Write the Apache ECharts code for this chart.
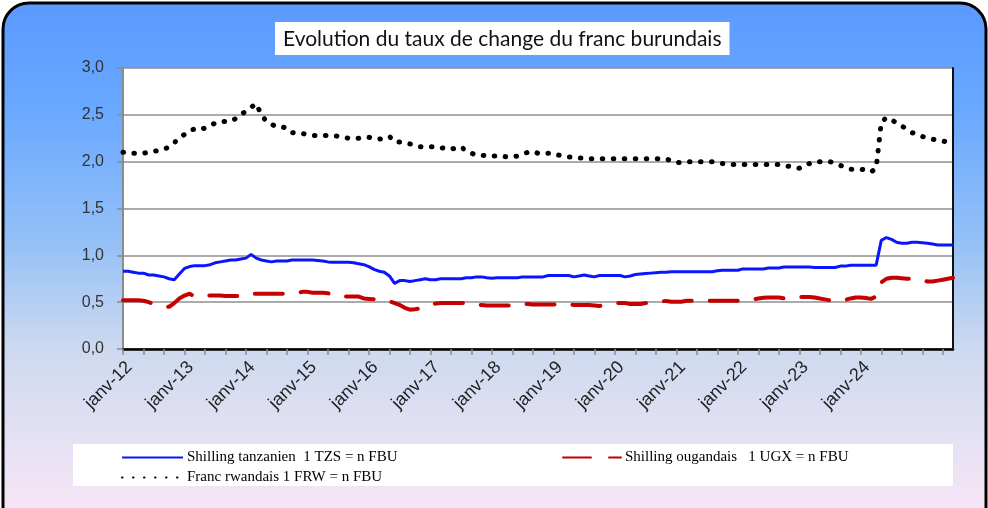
<!DOCTYPE html>
<html>
<head>
<meta charset="utf-8">
<script src="https://cdn.jsdelivr.net/npm/echarts@6/dist/echarts.min.js"></script>
<style>html,body{margin:0;padding:0;background:#fff}#c{width:988px;height:508px}</style>
</head>
<body>
<div id="c"></div>
<script>
// ---- data (monthly, janv-12 .. juil-25) ----
const monthNames = ['janv','févr','mars','avr','mai','juin','juil','août','sept','oct','nov','déc'];
const startYear = 12;
const nMonths = 163;
const xTickLabels = ['janv-12','janv-13','janv-14','janv-15','janv-16','janv-17','janv-18','janv-19','janv-20','janv-21','janv-22','janv-23','janv-24'];
const yTickLabels = ['0,0','0,5','1,0','1,5','2,0','2,5','3,0'];
const seriesNames = ['Shilling tanzanien  1 TZS = n FBU','Shilling ougandais   1 UGX = n FBU','Franc rwandais 1 FRW = n FBU'];

const tzs = [
0.83,0.83,0.82,0.81,0.81,0.79,0.79,0.78,0.77,0.75,0.74,0.80,
0.86,0.88,0.89,0.89,0.89,0.90,0.92,0.93,0.94,0.95,0.95,0.96,
0.97,1.01,0.97,0.95,0.94,0.93,0.94,0.94,0.94,0.95,0.95,0.95,
0.95,0.95,0.945,0.94,0.93,0.925,0.925,0.925,0.925,0.92,0.91,0.90,
0.88,0.85,0.83,0.82,0.78,0.70,0.73,0.73,0.72,0.73,0.74,0.75,
0.74,0.74,0.75,0.75,0.75,0.75,0.75,0.76,0.76,0.77,0.77,0.76,
0.755,0.76,0.76,0.76,0.76,0.76,0.77,0.77,0.77,0.77,0.77,0.785,
0.785,0.785,0.785,0.785,0.77,0.78,0.79,0.78,0.77,0.785,0.785,0.785,
0.785,0.785,0.77,0.78,0.795,0.80,0.805,0.81,0.815,0.82,0.82,0.825,
0.825,0.825,0.825,0.825,0.825,0.825,0.825,0.825,0.835,0.84,0.84,0.84,
0.84,0.855,0.855,0.855,0.855,0.855,0.865,0.865,0.865,0.875,0.875,0.875,
0.875,0.875,0.875,0.87,0.87,0.87,0.87,0.87,0.885,0.885,0.895,0.895,
0.895,0.895,0.895,0.895,1.16,1.19,1.17,1.14,1.13,1.13,1.14,1.14,
1.135,1.13,1.12,1.11,1.11,1.11,1.11
];
const ugx = [
0.52,0.52,0.52,0.52,0.515,0.50,0.48,0.47,0.46,0.45,0.49,0.54,
0.57,0.59,0.56,0.56,0.57,0.57,0.57,0.57,0.565,0.565,0.565,0.565,
0.565,0.59,0.59,0.59,0.59,0.59,0.59,0.59,0.59,0.595,0.60,0.61,
0.61,0.60,0.60,0.60,0.595,0.58,0.56,0.56,0.56,0.56,0.56,0.54,
0.535,0.53,0.52,0.515,0.51,0.49,0.47,0.44,0.42,0.425,0.435,0.455,
0.475,0.485,0.49,0.49,0.49,0.49,0.49,0.49,0.49,0.475,0.47,0.465,
0.465,0.465,0.465,0.465,0.465,0.48,0.48,0.48,0.475,0.475,0.475,0.475,
0.475,0.475,0.475,0.475,0.47,0.47,0.47,0.47,0.465,0.46,0.47,0.48,
0.49,0.49,0.49,0.48,0.48,0.48,0.49,0.50,0.505,0.51,0.512,0.505,
0.505,0.505,0.515,0.515,0.515,0.515,0.515,0.515,0.515,0.515,0.515,0.515,
0.515,0.52,0.52,0.53,0.54,0.548,0.55,0.55,0.55,0.54,0.55,0.555,
0.555,0.555,0.555,0.55,0.54,0.53,0.52,0.515,0.515,0.525,0.54,0.55,
0.55,0.545,0.535,0.56,0.71,0.75,0.76,0.76,0.755,0.75,0.75,0.745,
0.74,0.72,0.72,0.73,0.74,0.75,0.76
];
const frw = [
2.10,2.10,2.09,2.09,2.09,2.10,2.11,2.12,2.13,2.16,2.20,2.26,
2.29,2.33,2.35,2.34,2.36,2.39,2.41,2.43,2.43,2.43,2.46,2.50,
2.54,2.58,2.62,2.50,2.43,2.40,2.37,2.37,2.36,2.31,2.30,2.30,
2.29,2.28,2.28,2.28,2.28,2.28,2.27,2.26,2.25,2.25,2.25,2.26,
2.26,2.25,2.24,2.25,2.27,2.21,2.21,2.20,2.19,2.17,2.16,2.16,
2.16,2.16,2.15,2.14,2.13,2.15,2.16,2.11,2.09,2.07,2.07,2.06,
2.06,2.06,2.06,2.05,2.05,2.06,2.08,2.10,2.11,2.09,2.09,2.09,
2.09,2.07,2.06,2.05,2.05,2.04,2.04,2.03,2.03,2.03,2.03,2.03,
2.03,2.03,2.03,2.03,2.03,2.03,2.03,2.03,2.03,2.03,2.03,2.01,
1.99,1.99,2.00,2.00,2.00,2.00,2.00,2.00,1.99,1.98,1.97,1.97,
1.97,1.97,1.97,1.97,1.97,1.97,1.97,1.97,1.97,1.96,1.95,1.94,
1.93,1.96,1.98,2.00,2.00,2.00,2.00,1.98,1.96,1.94,1.92,1.92,
1.92,1.91,1.89,1.93,2.42,2.47,2.45,2.41,2.38,2.35,2.31,2.29,
2.27,2.25,2.24,2.23,2.22,2.21,2.20
];

const categories = [];
for (let i = 0; i < nMonths; i++) {
  categories.push(monthNames[i % 12] + '-' + (startYear + Math.floor(i / 12)));
}

const chart = echarts.init(document.getElementById('c'), null, {renderer: 'canvas'});
const legendText = {fontFamily: 'Liberation Serif', fontSize: 15, color: '#000', padding: [0,0,0,-1]};
const option = {
  backgroundColor: '#ffffff',
  animation: false,
  graphic: [
    {type: 'rect', z: -10, silent: true,
     shape: {x: 3, y: 3, width: 983, height: 530, r: 26},
     style: {
       fill: new echarts.graphic.LinearGradient(0, 0, 0, 1, [
         {offset: 0, color: '#5a9aff'},
         {offset: 0.2, color: '#69a8ff'},
         {offset: 0.45, color: '#94c0f7'},
         {offset: 0.65, color: '#cdd9ef'},
         {offset: 0.85, color: '#e9e2f4'},
         {offset: 1, color: '#fae6f6'}
       ]),
       stroke: '#000', lineWidth: 3}},
    {type: 'rect', z: -5, silent: true,
     shape: {x: 73, y: 444, width: 880, height: 42},
     style: {fill: '#ffffff'}}
  ],
  title: {
    text: 'Evolution du taux de change du franc burundais',
    left: 275, top: 22,
    backgroundColor: '#ffffff',
    padding: [6, 8, 5, 8],
    textStyle: {fontFamily: 'Lato', fontWeight: 'normal', fontSize: 21, color: '#111', lineHeight: 22}
  },
  legend: [
    {data: [seriesNames[0], seriesNames[2]], orient: 'vertical', left: 121, top: 450,
     itemWidth: 61, itemHeight: 14, itemGap: 5, padding: 0,
     itemStyle: {opacity: 0}, textStyle: legendText},
    {data: [seriesNames[1]], orient: 'vertical', left: 562, top: 450,
     itemWidth: 58, itemHeight: 14, itemGap: 5, padding: 0,
     itemStyle: {opacity: 0}, textStyle: legendText}
  ],
  grid: {left: 123, top: 68, right: 35, bottom: 159, containLabel: false,
         show: true, backgroundColor: '#ffffff', borderWidth: 0},
  xAxis: [{
    type: 'category', data: categories, boundaryGap: false,
    axisLine: {lineStyle: {color: '#8c8c8c', width: 2}},
    axisTick: {interval: 3, length: 6, lineStyle: {color: '#8c8c8c', width: 1.5}},
    axisLabel: {
      interval: function (i) { return i % 12 === 0 && xTickLabels.indexOf(categories[i]) >= 0; },
      rotate: 45, margin: 9, verticalAlign: 'top',
      fontFamily: 'Liberation Sans', fontSize: 18, color: '#222'
    },
    splitLine: {show: false}
  }, {
    type: 'category', data: categories, boundaryGap: false, position: 'top',
    axisLine: {lineStyle: {color: '#000', width: 2.5}},
    axisTick: {show: false}, axisLabel: {show: false}
  }],
  yAxis: [{
    type: 'value', min: 0, max: 3, interval: 0.5,
    axisLine: {show: true, lineStyle: {color: '#8c8c8c', width: 2}},
    axisTick: {show: true, length: 6, lineStyle: {color: '#8c8c8c', width: 1.5}},
    axisLabel: {
      margin: 19, fontFamily: 'Liberation Sans', fontSize: 16, color: '#333',
      formatter: function (v) { return yTickLabels[Math.round(v / 0.5)]; }
    },
    splitLine: {lineStyle: {color: '#8f8f8f', width: 1.5}}
  }, {
    type: 'value', min: 0, max: 3, interval: 0.5, position: 'right',
    axisLine: {show: true, lineStyle: {color: '#111', width: 2}},
    axisTick: {show: false}, axisLabel: {show: false}, splitLine: {show: false}
  }],
  series: [
    {name: seriesNames[0], type: 'line', data: tzs, symbol: 'none', z: 3,
     lineStyle: {color: '#0a14ff', width: 3}, itemStyle: {color: '#0a14ff'}},
    {name: seriesNames[1], type: 'line', data: ugx, symbol: 'none', z: 2,
     lineStyle: {color: '#c40000', width: 4, type: [28, 18], cap: 'round'}, itemStyle: {color: '#c40000'}},
    {name: seriesNames[2], type: 'line', data: frw, symbol: 'none', z: 2,
     lineStyle: {color: '#000', width: 5, type: [0.5, 10.5], cap: 'round'}, itemStyle: {color: '#000'}}
  ]
};
chart.setOption(option);
</script>
</body>
</html>
